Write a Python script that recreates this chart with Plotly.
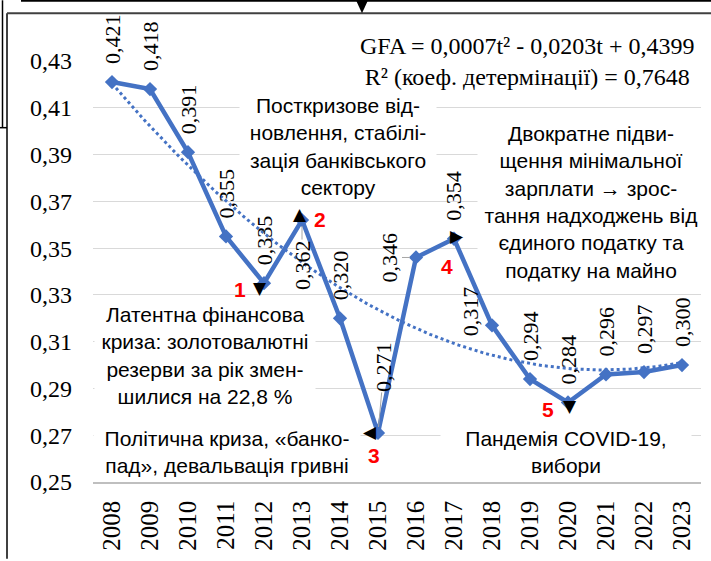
import numpy as np
import plotly.graph_objects as go

years = list(range(2008, 2024))
gfa = [0.421, 0.418, 0.391, 0.355, 0.335, 0.362, 0.320, 0.271,
       0.346, 0.354, 0.317, 0.294, 0.284, 0.296, 0.297, 0.300]
y_ticks = [0.25, 0.27, 0.29, 0.31, 0.33, 0.35, 0.37, 0.39, 0.41, 0.43]
equation = "GFA = 0,0007t² - 0,0203t + 0,4399<br>R² (коеф. детермінації) = 0,7648"

W, H = 711, 561
L, R, T, B = 93, 10, 61, 77
PW, PH = W - L - R, H - T - B

def px(x):
    return (x - L) / PW

def py(y):
    return (H - B - y) / PH

SERIF = "Liberation Serif, Times New Roman, serif"
SANS = "Liberation Sans, Arial, sans-serif"
BLUE = "#4472C4"

# polynomial trend (order 2) fitted from the data
t = np.arange(1, len(gfa) + 1)
coef = np.polyfit(t, gfa, 2)
tf = np.linspace(1, len(gfa), 200)
trend = np.polyval(coef, tf)
trend_x = 2007 + tf

fig = go.Figure()
fig.add_trace(go.Scatter(x=trend_x, y=trend, mode="lines",
                         line=dict(color=BLUE, width=3, dash="dot"),
                         hoverinfo="skip", showlegend=False))
fig.add_trace(go.Scatter(x=years, y=gfa, mode="lines+markers",
                         line=dict(color=BLUE, width=4.5),
                         marker=dict(symbol="diamond", size=11, color=BLUE),
                         showlegend=False))

ann = []
# data labels (offsets in pixels of label centre from point)
offsets = {2013: (0, 45, True), 2015: (6, -66, True), 2016: (-27, 0, True),
           2018: (-22, -14, False)}
for yr, v in zip(years, gfa):
    dx, dy, lead = offsets.get(yr, (0, -43, False))
    ann.append(dict(x=yr, y=v, xref="x", yref="y",
                    text=("%.3f" % v).replace(".", ","), textangle=-90,
                    font=dict(family=SERIF, size=22, color="black"),
                    showarrow=True, ax=dx, ay=dy, arrowhead=0, arrowwidth=1,
                    arrowcolor="#a6a6a6" if lead else "rgba(0,0,0,0)",
                    standoff=6 if lead else 0, borderpad=0))

# triangles and red numbers
marks = [(2012, "▼", -4, -5, "1", -24, -6),
         (2013, "▲", -2, 6, "2", 18, 1),
         (2015, "◀", -8, 1, "3", -4, -23),
         (2017, "▶", 3, 3, "4", -7, -28),
         (2020, "▼", 2, -4, "5", -20, -7)]
for yr, g, gx, gy, num, nx, ny in marks:
    v = gfa[years.index(yr)]
    ann.append(dict(x=yr, y=v, xref="x", yref="y", text=g, showarrow=False,
                    xshift=gx, yshift=gy, xanchor="center", yanchor="middle",
                    font=dict(family="DejaVu Sans", size=17, color="black")))
    ann.append(dict(x=yr, y=v, xref="x", yref="y", text="<b>%s</b>" % num,
                    showarrow=False, xshift=nx, yshift=ny,
                    xanchor="center", yanchor="middle",
                    font=dict(family=SANS, size=21, color="#ff0000")))

boxes = [
    ("Посткризове від-<br>новлення, стабілі-<br>зація банківського<br>сектору", 338, 147, 196),
    ("Двократне підви-<br>щення мінімальної<br>зарплати → зрос-<br>тання надходжень від<br>єдиного податку та<br>податку на майно", 591, 203, 226),
    ("Латентна фінансова<br>криза: золотовалютні<br>резерви за рік змен-<br>шилися на 22,8 %", 205, 357, 220),
    ("Політична криза, «банко-<br>пад», девальвація гривні", 227, 454, 266),
    ("Пандемія COVID-19,<br>вибори", 566, 454, 250),
]
for txt, cx, cy, w in boxes:
    ann.append(dict(x=px(cx), y=py(cy), xref="paper", yref="paper", text=txt,
                    xanchor="center", yanchor="middle",
                    showarrow=False, align="center", width=w, bgcolor="white",
                    borderpad=0, font=dict(family=SANS, size=21, color="black")))

ann.append(dict(x=px(527), y=py(61), xref="paper", yref="paper", text=equation,
                xanchor="center", yanchor="middle",
                showarrow=False, align="center",
                font=dict(family=SERIF, size=24, color="black")))

# frame lines
shapes = []
def line(x0, y0, x1, y1, w=2, c="#404040"):
    shapes.append(dict(type="line", xref="paper", yref="paper",
                       x0=px(x0), y0=py(y0), x1=px(x1), y1=py(y1),
                       line=dict(color=c, width=w)))
line(7, 13, 711, 13, 2, "#404040")
line(7, 13, 7, 561, 2, "#404040")
line(21, 0.5, 711, 0.5, 2, "black")
line(2.5, 0, 2.5, 128, 1.5, "black")
line(0, 128, 7, 128, 1.5, "black")
shapes.append(dict(type="path", xref="paper", yref="paper",
                   path="M %f,%f L %f,%f L %f,%f Z" % (px(356), py(0), px(368), py(0), px(362), py(13)),
                   fillcolor="black", line=dict(width=0)))

fig.update_layout(
    width=W, height=H, margin=dict(l=L, r=R, t=T, b=B),
    paper_bgcolor="white", plot_bgcolor="white",
    separators=", ", showlegend=False,
    annotations=ann, shapes=shapes,
    xaxis=dict(range=[2007.5, 2023.5], tickvals=years,
               ticktext=[str(y) for y in years], tickangle=-90,
               showgrid=False, zeroline=False,
               showline=True, linecolor="#bfbfbf", linewidth=1.5,
               ticks="", ticklabelstandoff=7,
               tickfont=dict(family=SERIF, size=25, color="black")),
    yaxis=dict(range=[0.25, 0.43], tickvals=y_ticks, tickformat=".2f",
               showgrid=True, gridcolor="#d9d9d9", gridwidth=1.2,
               zeroline=False, showline=False, ticks="",
               ticklabelstandoff=20,
               tickfont=dict(family=SERIF, size=24, color="black")),
)

fig.write_html("out.html", config={"displayModeBar": False},
               post_script="document.body.style.margin='0';document.body.style.overflow='hidden';")
